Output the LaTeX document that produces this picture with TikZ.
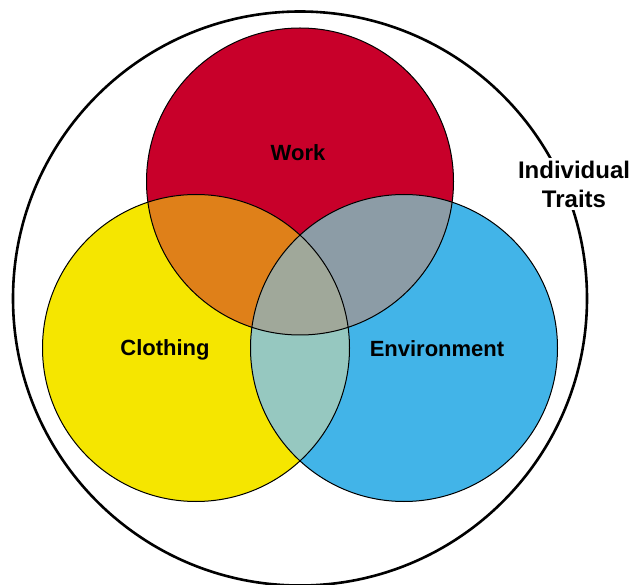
\documentclass[tikz,border=0pt]{standalone}
\usepackage{fontspec}
\setmainfont{Liberation Sans}
\definecolor{workred}{RGB}{200,0,42}
\definecolor{clothyellow}{RGB}{245,230,0}
\definecolor{envblue}{RGB}{66,180,232}
\definecolor{redyellow}{RGB}{223,128,25}
\definecolor{redblue}{RGB}{140,156,166}
\definecolor{yellowblue}{RGB}{150,200,192}
\definecolor{allthree}{RGB}{160,168,154}
\tikzset{
  ring/.style={draw=black, line width=1pt},
  outerring/.style={draw=black, line width=2.6pt},
  setlabel/.style={font=\bfseries\fontsize{22}{26}\selectfont, text=black, inner sep=2pt, align=center}
}
\begin{document}
\begin{tikzpicture}[x=1pt,y=-1pt]
  \useasboundingbox (0,0) rectangle (635,585);
  \fill[white] (0,0) rectangle (635,585);
  % circle centres
  \coordinate (cw) at (300,181.5);
  \coordinate (cc) at (196,348);
  \coordinate (ce) at (404,348);
  \def\rr{153.5}
  % surrounding set of individual traits
  \draw[outerring] (300,298.5) circle[radius=287];
  % base fills
  \fill[workred] (cw) circle[radius=\rr];
  \fill[clothyellow] (cc) circle[radius=\rr];
  \fill[envblue] (ce) circle[radius=\rr];
  % pairwise overlaps
  \begin{scope}
    \clip (cw) circle[radius=\rr];
    \fill[redyellow] (cc) circle[radius=\rr];
    \fill[redblue] (ce) circle[radius=\rr];
  \end{scope}
  \begin{scope}
    \clip (cc) circle[radius=\rr];
    \fill[yellowblue] (ce) circle[radius=\rr];
  \end{scope}
  % triple overlap
  \begin{scope}
    \clip (cw) circle[radius=\rr];
    \clip (cc) circle[radius=\rr];
    \fill[allthree] (ce) circle[radius=\rr];
  \end{scope}
  % outlines
  \draw[ring] (cw) circle[radius=\rr];
  \draw[ring] (cc) circle[radius=\rr];
  \draw[ring] (ce) circle[radius=\rr];
  % labels
  \node[setlabel] (work) at (298,153) {Work};
  \node[setlabel] (clothing) at (165,350) {Clothing};
  \node[setlabel] (environment) at (437,349) {Environment};
  \node[setlabel, fill=white, font=\bfseries\fontsize{24}{29}\selectfont, inner sep=3pt] (traits) at (574,184) {Individual\\Traits};
\end{tikzpicture}
\end{document}
